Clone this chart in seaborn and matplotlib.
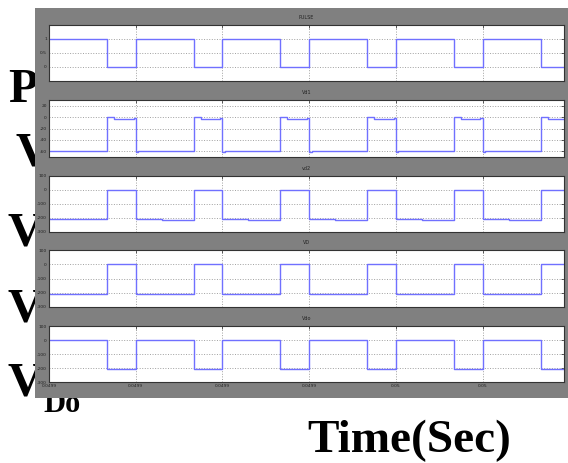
import matplotlib
matplotlib.use("Agg")
import matplotlib.pyplot as plt
import seaborn as sns
import pandas as pd
from matplotlib.patches import Rectangle

sns.set_theme(style="white")
plt.rcParams['font.family'] = ['DejaVu Sans']

# ---- data (time in microseconds from the first tick) ----
pulse_t = [0, 13.4, 20, 33.4, 40, 53.4, 60, 73.4, 80, 93.4, 100, 113.4, 118.8]
pulse_v = [1, 0, 1, 0, 1, 0, 1, 0, 1, 0, 1, 0, 0]

vd1_t = [0, 13.4, 15.0, 19.5, 20, 20.6, 33.4, 35.0, 39.5, 40, 40.6, 53.4, 55.0, 59.5,
         60, 60.6, 73.4, 75.0, 79.5, 80, 80.6, 93.4, 95.0, 99.5, 100, 100.6, 113.4, 115.0, 118.8]
vd1_v = [-60, 1, -3, -1, -62, -60, 1, -3, -1, -62, -60, 1, -3, -1,
         -62, -60, 1, -3, -1, -62, -60, 1, -3, -1, -62, -60, 1, -3, -3]

vd2_t = [0, 13.4, 20, 26, 33.4, 40, 46, 53.4, 60, 66, 73.4, 80, 86, 93.4, 100, 106, 113.4, 118.8]
vd2_v = [-210, 0, -206, -211, 0, -206, -211, 0, -206, -211, 0, -206, -211, 0, -206, -211, 0, 0]

vd_t = [0, 13.4, 20, 26, 33.4, 40, 46, 53.4, 60, 66, 73.4, 80, 86, 93.4, 100, 106, 113.4, 118.8]
vd_v = [-210, 0, -207, -211, 0, -207, -211, 0, -207, -211, 0, -207, -211, 0, -207, -211, 0, 0]

vdo_t = [0, 13.4, 20, 33.4, 40, 53.4, 60, 73.4, 80, 93.4, 100, 113.4, 118.8]
vdo_v = [0, -210, 0, -210, 0, -210, 0, -210, 0, -210, 0, -210, -210]

x_ticks = [0, 20, 40, 60, 80, 100]
x_tick_labels = ["0.0499", "0.0499", "0.0499", "0.0499", "0.05", "0.05"]

titles = ["PULSE", "Vd1", "vd2", "VD", "Vdo"]
y_ticks = [[0, 0.5, 1], [-60, -40, -20, 0, 20], [-300, -200, -100, 0, 100],
           [-300, -200, -100, 0, 100], [-300, -200, -100, 0, 100]]
y_tick_labels = [["0", "0.5", "1"], ["-60", "-40", "-20", "0", "20"],
                 ["-300", "-200", "-100", "0", "100"], ["-300", "-200", "-100", "0", "100"],
                 ["-300", "-200", "-100", "0", "100"]]
y_lims = [(-0.5, 1.5), (-70, 30), (-300, 100), (-300, 100), (-300, 100)]
series = [(pulse_t, pulse_v), (vd1_t, vd1_v), (vd2_t, vd2_v), (vd_t, vd_v), (vdo_t, vdo_v)]

# ---- layout ----
W, H = 568, 463
fig = plt.figure(figsize=(W / 100, H / 100), dpi=100)
fig.patch.set_facecolor("white")

# big overlay labels (behind the scope panel)
serif = dict(family=["Liberation Serif", "DejaVu Serif"], weight="bold", color="black")
def ftext(x, y, s, size):
    fig.text(x / W, 1 - y / H, s, fontsize=size, zorder=-2, ha="left", va="baseline", **serif)

ftext(8, 102, "P", 35)
ftext(15, 165, "V", 35)
ftext(8, 245, "V", 35)
ftext(8, 322, "V", 35)
ftext(8, 395, "V", 35)
ftext(43, 412, "Do", 22)
ftext(307, 452, "Time(Sec)", 34)

# gray scope background
fig.patches.append(Rectangle((35 / W, 1 - 398 / H), 533 / W, 390 / H,
                             transform=fig.transFigure, facecolor="#808080",
                             edgecolor="none", zorder=-1))

ax_px = [(25, 81), (100, 157), (176, 232), (250, 307), (326, 382)]
left_px, right_px = 49, 564
line_color = "#7070ff"

for i, ((yt, yb), (t, v)) in enumerate(zip(ax_px, series)):
    ax = fig.add_axes([left_px / W, 1 - yb / H, (right_px - left_px) / W, (yb - yt) / H])
    ax.set_facecolor("white")
    df = pd.DataFrame({"t": t, "v": v})
    sns.lineplot(data=df, x="t", y="v", ax=ax, color=line_color, linewidth=1.0,
                 drawstyle="steps-post", estimator=None, sort=False)
    ax.set_xlim(0, 118.8)
    ax.set_ylim(*y_lims[i])
    ax.set_yticks(y_ticks[i])
    ax.set_yticklabels(y_tick_labels[i])
    ax.set_xticks(x_ticks)
    if i == 4:
        ax.set_xticklabels(x_tick_labels)
    else:
        ax.set_xticklabels([])
    ax.set_xlabel("")
    ax.set_ylabel("")
    ax.grid(True, color="#a0a0a0", linestyle=":", linewidth=0.7)
    ax.tick_params(axis="both", which="both", labelsize=3.2, length=2, width=0.5,
                   direction="in", top=True, right=True, pad=1.5, colors="#222222")
    for s in ax.spines.values():
        s.set_color("#333333")
        s.set_linewidth(0.8)
    ax.set_title(titles[i], fontsize=3.5, pad=4, color="#222222")

fig.savefig("out.png", dpi=100)
